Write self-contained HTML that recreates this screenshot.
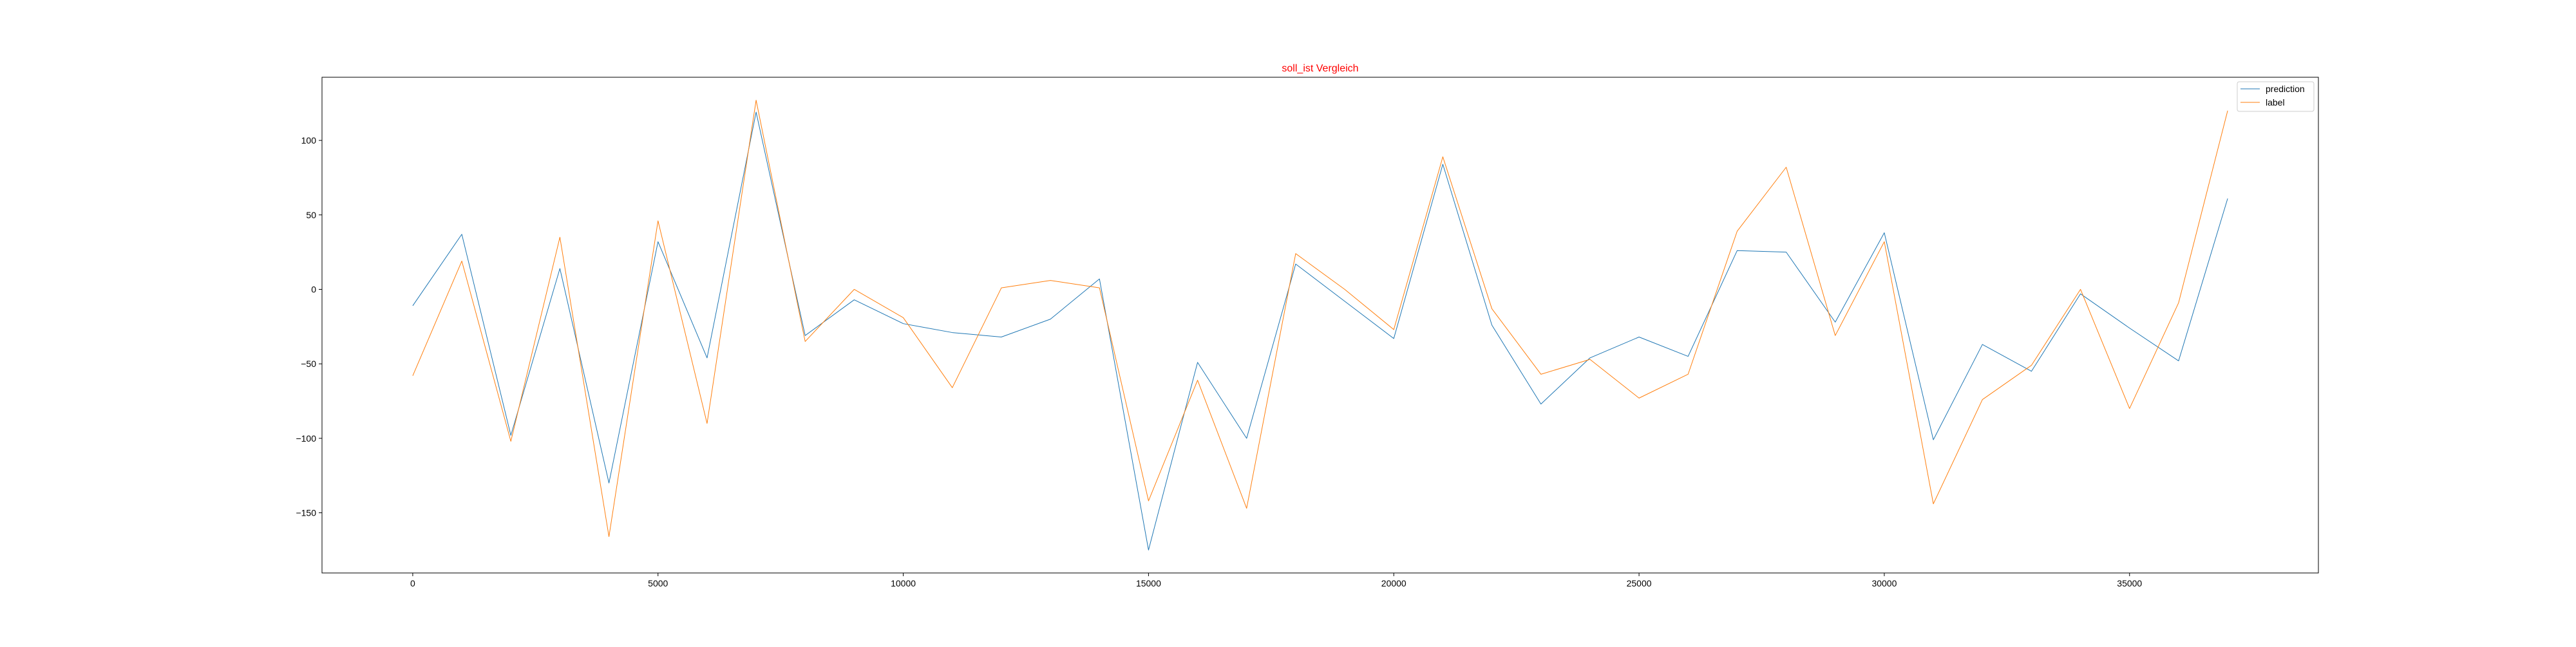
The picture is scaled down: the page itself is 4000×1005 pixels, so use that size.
<!DOCTYPE html>
<html><head><meta charset="utf-8"><style>
html,body{margin:0;padding:0;background:#fff;}
svg text{font-family:"Liberation Sans","DejaVu Sans",sans-serif;}
</style></head><body>
<svg id="chart" width="4000" height="1000" xmlns="http://www.w3.org/2000/svg">
<rect width="4000" height="1000" fill="#fff"/>
<g id="plot"></g>
</svg>
<script>
const xValues = [0,1000,2000,3000,4000,5000,6000,7000,8000,9000,10000,11000,12000,13000,14000,15000,16000,17000,18000,19000,20000,21000,22000,23000,24000,25000,26000,27000,28000,29000,30000,31000,32000,33000,34000,35000,36000,37000];
const prediction = [-11,37,-98,14,-130,32,-46,119,-31,-7,-23,-29,-32,-20,7,-175,-49,-100,17,-8,-33,84,-24,-77,-46,-32,-45,26,25,-22,38,-101,-37,-55,-3,-26,-48,61];
const label = [-58,19,-102,35,-166,46,-90,127,-35,0,-19,-66,1,6,1,-142,-61,-147,24,0,-27,89,-13,-57,-47,-73,-57,39,82,-31,32,-144,-74,-51,0,-80,-9,120];
const xTicks = [0,5000,10000,15000,20000,25000,30000,35000];
const yTicks = [-150,-100,-50,0,50,100];

const L=500,R=3600,T=120,B=890;
const xMin=-1850,xMax=38850,yMin=-190.4,yMax=142.4;
const NS="http://www.w3.org/2000/svg";
function sx(v){return L+(v-xMin)/(xMax-xMin)*(R-L);}
function sy(v){return B-(v-yMin)/(yMax-yMin)*(B-T);}
const g=document.getElementById('plot');
function el(tag,attrs,parent){const e=document.createElementNS(NS,tag);for(const k in attrs)e.setAttribute(k,attrs[k]);(parent||g).appendChild(e);return e;}

function series(vals,color,name){
  const pts=vals.map((v,i)=>sx(xValues[i]).toFixed(2)+","+sy(v).toFixed(2)).join(" ");
  const p=el('polyline',{points:pts,fill:'none',stroke:color,'stroke-width':1,'stroke-linejoin':'round'});
  
  
}
series(prediction,'#1f77b4','prediction-line');
series(label,'#ff7f0e','label-line');

const frame=el('rect',{x:L,y:T,width:R-L,height:B-T,fill:'none',stroke:'#000','stroke-width':1});



xTicks.forEach(v=>{
  const x=sx(v);
  const t=el('line',{x1:x,x2:x,y1:B,y2:B+5,stroke:'#000','stroke-width':1});
  
  
  const tx=el('text',{x:x,y:B+21,'font-size':14,'text-anchor':'middle',fill:'#000'});
  tx.textContent=String(v);
  
  
});
yTicks.forEach(v=>{
  const y=sy(v);
  const t=el('line',{x1:L-5,x2:L,y1:y,y2:y,stroke:'#000','stroke-width':1});
  
  
  const tx=el('text',{x:L-9,y:y+5,'font-size':14,'text-anchor':'end',fill:'#000'});
  tx.textContent=(v<0?'\u2212'+Math.abs(v):String(v));
  
  
});

const title=el('text',{x:(L+R)/2,y:111,'font-size':16,'text-anchor':'middle',fill:'#ff0000'});
title.textContent='soll_ist Vergleich';



const lg=el('g',{});


el('rect',{x:3474,y:127,width:119,height:46,rx:3,fill:'#fff',stroke:'#ccc','stroke-width':1},lg);
[['prediction','#1f77b4',138],['label','#ff7f0e',159]].forEach(([n,c,y])=>{
  const ln=el('line',{x1:3479,x2:3509,y1:y,y2:y,stroke:c,'stroke-width':1},lg);
  
  
  const t=el('text',{x:3518,y:y+5,'font-size':14,fill:'#000'},lg);
  t.textContent=n;
  
  
});
</script>
</body></html>
